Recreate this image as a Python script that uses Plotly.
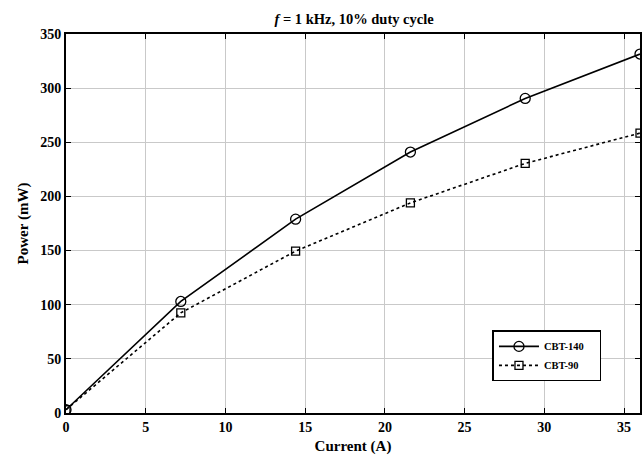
import plotly.graph_objects as go

current = [0, 7.2, 14.4, 21.6, 28.8, 36]
cbt140 = [3, 103, 179, 241, 290.5, 331.5]
cbt90 = [3, 92.5, 149.5, 194, 230.5, 258.5]

x_ticks = [0, 5, 10, 15, 20, 25, 30, 35]
y_ticks = [0, 50, 100, 150, 200, 250, 300, 350]

font = "Liberation Serif, Times New Roman, serif"

fig = go.Figure()
fig.add_trace(go.Scatter(
    x=current, y=cbt140, name="<b>CBT-140</b>&nbsp;&nbsp;&nbsp;&nbsp;", mode="lines+markers",
    line=dict(color="black", width=1.6, dash="solid"),
    marker=dict(symbol="circle-open", size=10, color="black", line=dict(width=1.3)),
))
fig.add_trace(go.Scatter(
    x=current, y=cbt90, name="<b>CBT-90</b>", mode="lines+markers",
    line=dict(color="black", width=1.6, dash="dot"),
    marker=dict(symbol="square-open", size=8, color="black", line=dict(width=1.3)),
))

axis_common = dict(
    showline=True, linecolor="black", linewidth=1.8, mirror="ticks",
    ticks="inside", ticklen=5, tickwidth=1.3, tickcolor="black",
    showgrid=True, gridcolor="#c9c9c9", gridwidth=1,
    zeroline=False,
    tickfont=dict(family=font, size=14, color="black"),
)

fig.update_layout(
    width=642, height=455,
    margin=dict(l=66, r=0, t=34, b=42),
    paper_bgcolor="white", plot_bgcolor="white",
    title=dict(text="<b><i>f</i> = 1 kHz, 10% duty cycle</b>", x=0.5515, xanchor="center",
               y=1 - 19 / 455, yanchor="middle",
               font=dict(family=font, size=14.5, color="black")),
    xaxis=dict(range=[0, 36], tickvals=x_ticks, ticktext=[f"<b>{v}</b>" for v in x_ticks],
               title=dict(text="<b>Current (A)</b>", font=dict(family=font, size=15, color="black"), standoff=7),
               **axis_common),
    yaxis=dict(range=[0, 350], tickvals=y_ticks, ticktext=[f"<b>{v}</b>" for v in y_ticks],
               title=dict(text="<b>Power (mW)</b>", font=dict(family=font, size=15, color="black"), standoff=8),
               **axis_common),
    legend=dict(x=0.743, y=0.218, xanchor="left", yanchor="top",
                bgcolor="white", bordercolor="black", borderwidth=1.5,
                itemwidth=40,
                font=dict(family=font, size=10.5, color="black")),
    showlegend=True,
)

fig.write_html("out.html")
